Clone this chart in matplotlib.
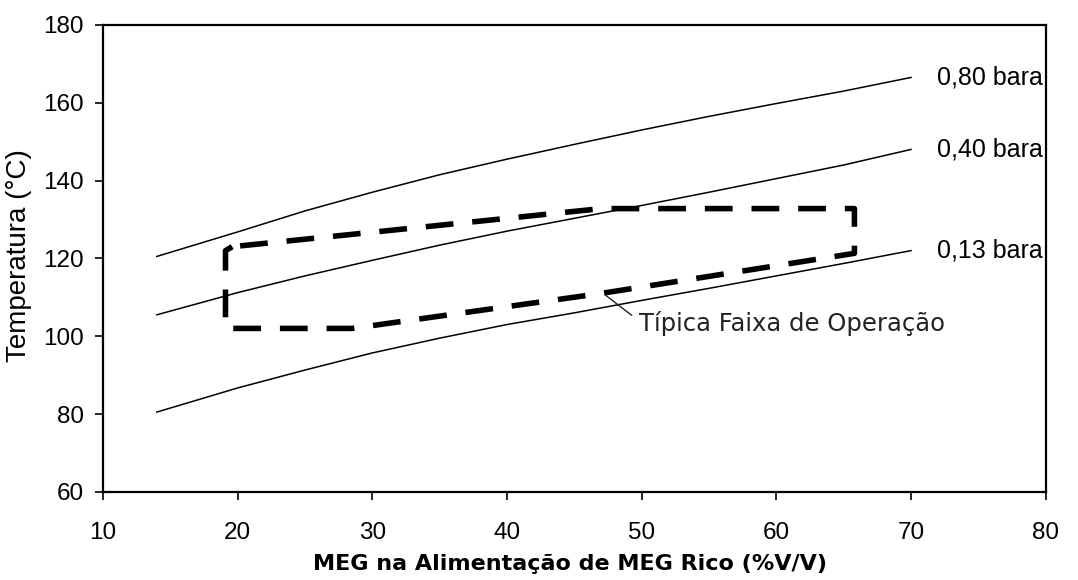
import numpy as np
import matplotlib
matplotlib.use('Agg')
from matplotlib import pyplot as plt


# curves
meg = [14, 20, 25, 30, 35, 40, 45, 50, 55, 60, 65, 70]
t_080 = [120.5, 126.8, 132.2, 137.0, 141.5, 145.5, 149.3, 153.0, 156.5, 159.8, 163.0, 166.5]
t_040 = [105.5, 111.2, 115.5, 119.5, 123.4, 127.0, 130.3, 133.6, 137.0, 140.5, 144.0, 148.0]
t_013 = [80.5, 86.7, 91.3, 95.7, 99.5, 103.0, 106.0, 109.2, 112.3, 115.5, 118.7, 122.0]
curve_labels = ['0,80 bara', '0,40 bara', '0,13 bara']

# dashed operating region
box_x = [19.6, 19.1, 19.1, 28.5, 47.0, 65.8, 65.8, 65.8, 47.0, 19.6]
box_y = [123.0, 122.0, 102.0, 102.0, 111.0, 121.3, 126.0, 132.8, 132.8, 123.0]

plt.rcParams['font.family'] = ['Liberation Sans', 'DejaVu Sans']

fig = plt.figure(figsize=(10.78, 5.8), dpi=100)
ax = fig.add_axes([0.0955, 0.152, 0.8745, 0.805])

for t in (t_080, t_040, t_013):
    ax.plot(meg, t, color='black', lw=1.1)

for t, lab in zip((t_080, t_040, t_013), curve_labels):
    ax.text(meg[-1] + 1.9, t[-1], lab, fontsize=18, va='center', ha='left')

ax.plot(box_x, box_y, color='black', lw=4.0, dashes=(5.0, 3.4),
        solid_capstyle='butt', dash_capstyle='butt')

ax.annotate('Típica Faixa de Operação', xy=(47.3, 110.6), xytext=(49.8, 103.3),
            fontsize=17.5, family='DejaVu Sans', color='#222222',
            va='center', ha='left',
            arrowprops=dict(arrowstyle='-', color='#222222', lw=1.0,
                            shrinkA=4, shrinkB=0, relpos=(0, 0.6)))

ax.set_xlim(10, 80)
ax.set_ylim(60, 180)
ax.set_xticks(np.arange(10, 81, 10))
ax.set_yticks(np.arange(60, 181, 20))
ax.tick_params(axis='both', labelsize=17.5, length=5.8, width=1.2, direction='out')
ax.tick_params(axis='x', pad=16)
ax.tick_params(axis='y', pad=8)
for s in ax.spines.values():
    s.set_linewidth(1.6)

ax.set_xlabel('MEG na Alimentação de MEG Rico (%V/V)', fontsize=16,
              fontweight='bold', family='DejaVu Sans')
ax.set_ylabel('Temperatura (°C)', fontsize=20)
ax.xaxis.set_label_coords(0.495, -0.133)
ax.yaxis.set_label_coords(-0.075, 0.505)

fig.savefig('out.png', dpi=100)
